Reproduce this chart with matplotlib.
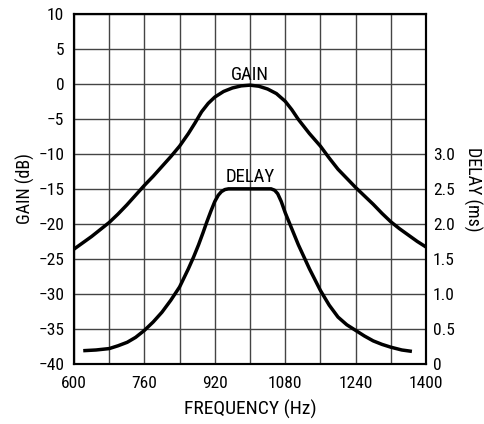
import matplotlib
matplotlib.use("Agg")
import matplotlib.pyplot as plt
from matplotlib import font_manager

# ---- data ----
gain_freq = [600, 620, 640, 660, 680, 700, 720, 740, 760, 780, 800, 820, 840, 860, 875, 890,
             905, 920, 940, 960, 980, 1000, 1020, 1040, 1060, 1080, 1095, 1110, 1135, 1160,
             1180, 1200, 1220, 1240, 1260, 1280, 1300, 1320, 1340, 1360, 1380, 1400]
gain_db = [-23.6, -22.7, -21.8, -20.8, -19.8, -18.6, -17.3, -15.9, -14.5, -13.2, -11.8, -10.4,
           -8.9, -7.1, -5.6, -4.0, -2.8, -1.9, -1.1, -0.6, -0.3, -0.2, -0.35, -0.75, -1.4,
           -2.5, -3.7, -5.1, -7.1, -8.9, -10.6, -12.2, -13.5, -14.8, -16.0, -17.2, -18.5,
           -19.7, -20.7, -21.6, -22.5, -23.3]

delay_freq = [621, 650, 680, 700, 721, 740, 760, 780, 800, 820, 840, 860, 872, 883, 893, 902,
              911, 920, 928, 935, 943, 951, 1048, 1056, 1063, 1071, 1080, 1095, 1110, 1135,
              1160, 1180, 1200, 1220, 1240, 1260, 1280, 1300, 1320, 1345, 1368]
delay_ms = [0.19, 0.20, 0.22, 0.26, 0.31, 0.38, 0.48, 0.60, 0.74, 0.91, 1.10, 1.36, 1.53,
            1.70, 1.87, 2.03, 2.18, 2.32, 2.41, 2.46, 2.49, 2.50, 2.50, 2.48, 2.43, 2.32,
            2.16, 1.93, 1.70, 1.36, 1.05, 0.84, 0.67, 0.56, 0.48, 0.40, 0.33, 0.28, 0.24,
            0.20, 0.18]

x_ticks = [600, 760, 920, 1080, 1240, 1400]
x_grid = [600, 680, 760, 840, 920, 1000, 1080, 1160, 1240, 1320, 1400]
gain_ticks = [10, 5, 0, -5, -10, -15, -20, -25, -30, -35, -40]
delay_ticks = [0, 0.5, 1.0, 1.5, 2.0, 2.5, 3.0]
delay_tick_labels = ["0", "0.5", "1.0", "1.5", "2.0", "2.5", "3.0"]

# pick a condensed sans if one is installed
fam, stretch = "Liberation Sans", "normal"
entries = font_manager.fontManager.ttflist
cands = [e for e in entries if ("Narrow" in e.name or "Condensed" in e.name
         or (isinstance(e.stretch, str) and "condensed" in e.stretch)
         or (isinstance(e.stretch, int) and e.stretch < 500))]
pref = ["Roboto Condensed", "Liberation Sans Narrow", "Noto Sans", "Open Sans"]
chosen = None
for p in pref:
    for e in cands:
        if e.name.startswith(p) and e.weight in (400, "normal", "regular"):
            chosen = e
            break
    if chosen:
        break
if chosen:
    fam = chosen.name
    stretch = chosen.stretch
plt.rcParams['font.family'] = [fam, 'DejaVu Sans']
plt.rcParams['font.stretch'] = stretch
FS = 12.5

fig = plt.figure(figsize=(4.85, 4.24), dpi=100)
ax = fig.add_axes([74/485, 1-364/424, (426-74)/485, (364-13.7)/424])
ax.set_xlim(600, 1400)
ax.set_ylim(-40, 10)
ax.set_xticks(x_grid)
ax.set_xticklabels([str(v) if v in x_ticks else "" for v in x_grid])
ax.set_yticks(gain_ticks)
ax.set_yticklabels([f"{v}".replace("-", "\u2212") for v in gain_ticks])
ax.grid(True, color="#444444", linewidth=1.0)
ax.tick_params(axis="x", length=0, labelsize=FS, pad=9)
ax.tick_params(axis="y", length=0, labelsize=FS, pad=7)
for s in ax.spines.values():
    s.set_linewidth(1.5)
ax.set_xlabel("FREQUENCY (Hz)", fontsize=14, labelpad=6)
ax.set_ylabel("GAIN (dB)", fontsize=13, labelpad=2)

ax.plot(gain_freq, gain_db, color="black", linewidth=2.5, solid_capstyle="butt")

ax2 = ax.twinx()
ax2.set_ylim(0, 5.0)
ax2.set_yticks(delay_ticks)
ax2.set_yticklabels(delay_tick_labels)
ax2.tick_params(length=0, labelsize=FS, pad=5)
for s in ax2.spines.values():
    s.set_linewidth(1.5)
ax2.set_ylabel("DELAY (ms)", fontsize=13, rotation=-90, labelpad=20)
ax2.plot(delay_freq, delay_ms, color="black", linewidth=2.5, solid_capstyle="butt")

ax.text(1000, 0.53, "GAIN", ha="center", va="baseline", fontsize=13.5)
ax.text(1000, -14.04, "DELAY", ha="center", va="baseline", fontsize=13.5)

fig.savefig("out.png", dpi=100)
